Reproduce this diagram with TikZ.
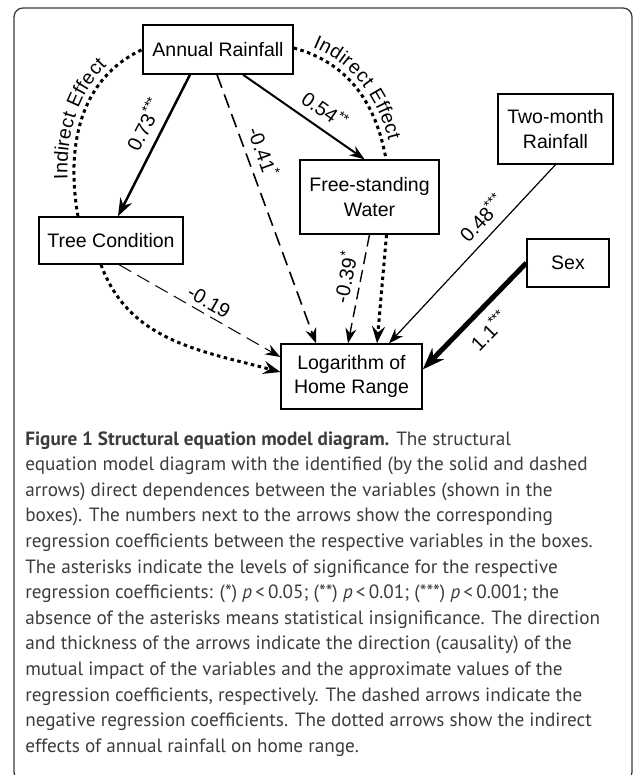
\documentclass[tikz,border=0pt]{standalone}
\usepackage{fontspec}
\setmainfont{Liberation Sans}
\newfontfamily\capfont{PT Sans}
\usepackage{xcolor}
\usetikzlibrary{arrows.meta,decorations.text}
\definecolor{capgray}{RGB}{60,60,60}

\begin{document}
\begin{tikzpicture}[x=1pt,y=1pt,->,>={Stealth[length=15pt,width=11pt,inset=5pt]},semithick]
			\tikzstyle{every node}=[font=\fontsize{19.5}{24.5}\selectfont]
			\tikzstyle{box}=[draw=black,line width=1.4pt,align=center,inner sep=0pt]
			\tikzstyle{coef}=[sloped,inner sep=0pt,text height=14pt,text depth=0pt,font=\fontsize{20}{24}\selectfont]
			\tikzstyle{indirect}=[line width=3pt,dash pattern=on 3.5pt off 3.5pt,>={Stealth[length=17pt,width=13pt,inset=6pt]}]
			\tikzstyle{effect}=[postaction={decorate,decoration={text along path,text align=center,raise=6.5pt,
				text={|\fontsize{19.5}{24}\selectfont|Indirect Effect}}}]
			\useasboundingbox (0,0) rectangle (633,775);
			% frame
			\begin{scope}
				\clip (0,0) rectangle (633,775);
				\draw[-,line width=1.3pt,capgray,rounded corners=9pt] (14,-6) rectangle (632,767);
			\end{scope}
			% variables
			\node[box,minimum width=150pt,minimum height=49pt] (AR) at (218,725.5) {Annual Rainfall};
			\node[box,minimum width=144pt,minimum height=47pt] (TC) at (111,534.5) {Tree Condition};
			\node[box,minimum width=139pt,minimum height=74pt] (FW) at (369.5,578) {Free-standing\\Water};
			\node[box,minimum width=115pt,minimum height=70pt] (TM) at (555.5,646) {Two-month\\Rainfall};
			\node[box,minimum width=82pt,minimum height=48pt]  (SX) at (568,512) {Sex};
			\node[box,minimum width=141pt,minimum height=65pt] (LH) at (351.5,398.5) {Logarithm of\\Home Range};
			% direct effects
			\path
			([xshift=-28pt]AR.south) edge[line width=2.5pt,>={Stealth[length=18pt,width=13pt,inset=6pt]}]
				node[coef,pos=0.41,above=9pt] {0.73\textsuperscript{***}} ([xshift=7pt]TC.north)
			([xshift=-1pt]AR.south) edge[line width=1.6pt,dash pattern=on 14pt off 7pt]
				node[coef,pos=0.31,above=8pt] {-0.41\textsuperscript{*}} ([xshift=-35.5pt]LH.north)
			([xshift=25pt]AR.south) edge[line width=2pt]
				node[coef,pos=0.59,above=9pt] {0.54\textsuperscript{**}} ([xshift=-5pt]FW.north)
			(FW.south) edge[line width=1.4pt,dash pattern=on 12pt off 6pt]
				node[coef,pos=0.42,above=7pt] {-0.39\textsuperscript{*}} ([xshift=-3.5pt]LH.north)
			([xshift=8pt]TC.south) edge[line width=1pt,dash pattern=on 14pt off 7pt]
				node[coef,pos=0.52,above=5pt] {-0.19} ([yshift=19.5pt]LH.west)
			(TM.south) edge[line width=1.2pt]
				node[coef,pos=0.365,above=9pt] {0.48\textsuperscript{***}} ([xshift=37.5pt]LH.north)
			(SX.west) edge[line width=5pt,>={Stealth[length=22pt,width=16pt,inset=7pt]}]
				node[coef,pos=0.5,below=12pt] {1.1\textsuperscript{***}} ([yshift=7pt]LH.east);
			% indirect effects
			\draw[indirect,-,effect] ([xshift=-33pt]TC.north) to[out=100,in=205] (AR.west);
			\draw[indirect] ([xshift=-10pt]TC.south) to[out=-70,in=165] ([yshift=4.5pt]LH.west);
			\draw[indirect,-,effect] ([yshift=1.5pt]AR.east) to[out=-15,in=100] ([xshift=16.5pt]FW.north);
			\draw[indirect] ([xshift=17pt]FW.south) -- ([xshift=25.5pt]LH.north);
			% caption
			\node[anchor=north west,align=left,inner sep=0pt,text=capgray,font=\capfont\fontsize{19.2}{25.6}\selectfont] (CAP) at (25,344)
			{\textbf{Figure 1 Structural equation model diagram.} The structural\\
			equation model diagram with the identified (by the solid and dashed\\
			arrows) direct dependences between the variables (shown in the\\
			boxes). The numbers next to the arrows show the corresponding\\
			regression coefficients between the respective variables in the boxes.\\
			The asterisks indicate the levels of significance for the respective\\
			regression coefficients: (*) \textit{p}\,<\,0.05; (**) \textit{p}\,<\,0.01; (***) \textit{p}\,<\,0.001; the\\
			absence of the asterisks means statistical insignificance. The direction\\
			and thickness of the arrows indicate the direction (causality) of the\\
			mutual impact of the variables and the approximate values of the\\
			regression coefficients, respectively. The dashed arrows indicate the\\
			negative regression coefficients. The dotted arrows show the indirect\\
			effects of annual rainfall on home range.};
		\end{tikzpicture}
\end{document}
